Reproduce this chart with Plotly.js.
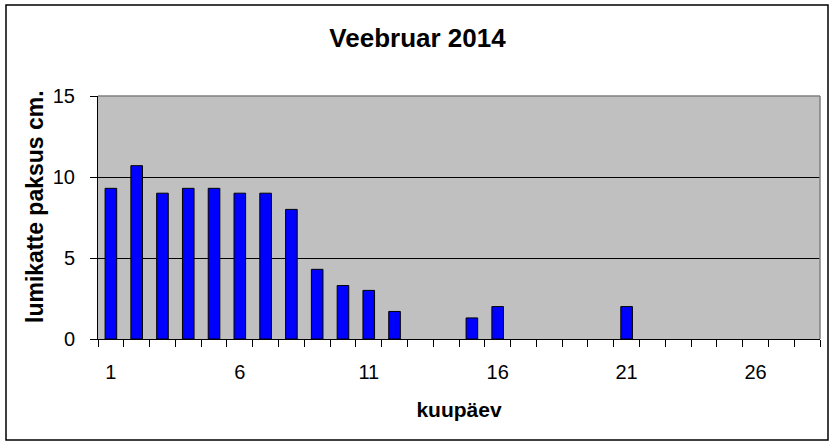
<!DOCTYPE html>
<html>
<head>
<meta charset="utf-8">
<script src="https://cdn.plot.ly/plotly-3.0.1.min.js"></script>
<style>
  body { margin: 0; background: white; }
  #chart { width: 835px; height: 445px; }
</style>
</head>
<body>
<div id="chart"></div>
<script>
// snow depth per day, February 2014 (null = no bar drawn)
const days = [];
for (let d = 1; d <= 28; d++) days.push(d);
const depth = [9.3, 10.7, 9, 9.3, 9.3, 9, 9, 8, 4.3, 3.3, 3, 1.7, null, null,
               1.3, 2, null, null, null, null, 2, null, null, null, null, null, null, null];
const xTicks = [1, 6, 11, 16, 21, 26];
const yTicks = [0, 5, 10, 15];

const font = 'Arial, "Liberation Sans", sans-serif';

const data = [{
  x: days,
  y: depth,
  type: 'bar',
  width: 0.45,
  marker: { color: '#0000FF', line: { color: 'black', width: 1 } },
  hoverinfo: 'x+y'
}];

const layout = {
  width: 835,
  height: 445,
  margin: { l: 98, r: 15, t: 96, b: 106 },
  paper_bgcolor: 'white',
  plot_bgcolor: '#C0C0C0',
  showlegend: false,
  font: { family: font, color: 'black', size: 20 },
  title: {
    text: '<b>Veebruar 2014</b>',
    font: { family: font, size: 26, color: 'black' },
    x: 0.5, xref: 'container', xanchor: 'center',
    y: 1 - 38 / 445, yref: 'container', yanchor: 'middle'
  },
  xaxis: {
    range: [0.5, 28.5],
    tickmode: 'array',
    tickvals: xTicks,
    ticktext: xTicks.map(String),
    ticks: '',
    showgrid: false,
    zeroline: false,
    showline: true,
    linecolor: 'black',
    linewidth: 1,
    tickfont: { family: font, size: 20 },
    ticklabelstandoff: 15,
    minor: { tickmode: 'linear', tick0: 0.5, dtick: 1, ticks: 'outside', ticklen: 7, tickcolor: 'black', tickwidth: 1, showgrid: false },
    title: { text: '<b>kuupäev</b>', font: { family: font, size: 21 }, standoff: 20 }
  },
  yaxis: {
    range: [0, 15],
    tickmode: 'array',
    tickvals: yTicks,
    ticks: 'outside',
    ticklen: 7,
    tickcolor: 'black',
    showgrid: true,
    gridcolor: 'black',
    gridwidth: 1,
    zeroline: false,
    showline: true,
    linecolor: 'black',
    linewidth: 1,
    tickfont: { family: font, size: 20 },
    ticklabelstandoff: 11
  },
  annotations: [{
    text: '<b>lumikatte paksus cm.</b>',
    textangle: -90,
    xref: 'paper', yref: 'paper',
    x: (35 - 98) / 722, y: (339 - 207) / 243,
    xanchor: 'center', yanchor: 'middle',
    showarrow: false,
    font: { family: font, size: 23, color: 'black' }
  }],
  shapes: [
    // grey frame on top / right of plot area
    { type: 'line', xref: 'paper', yref: 'paper', x0: 0, x1: 1, y0: 1, y1: 1, line: { color: '#808080', width: 1.5 }, layer: 'above' },
    { type: 'line', xref: 'paper', yref: 'paper', x0: 1, x1: 1, y0: 0, y1: 1, line: { color: '#808080', width: 1.5 }, layer: 'above' },
    // chart border
    { type: 'rect', xref: 'paper', yref: 'paper',
      x0: (6 - 98) / 722, x1: (828 - 98) / 722,
      y0: (339 - 440) / 243, y1: (339 - 5) / 243,
      line: { color: 'black', width: 1.5 }, layer: 'above' }
  ]
};

Plotly.newPlot('chart', data, layout, { displayModeBar: false, staticPlot: true });
</script>
</body>
</html>
